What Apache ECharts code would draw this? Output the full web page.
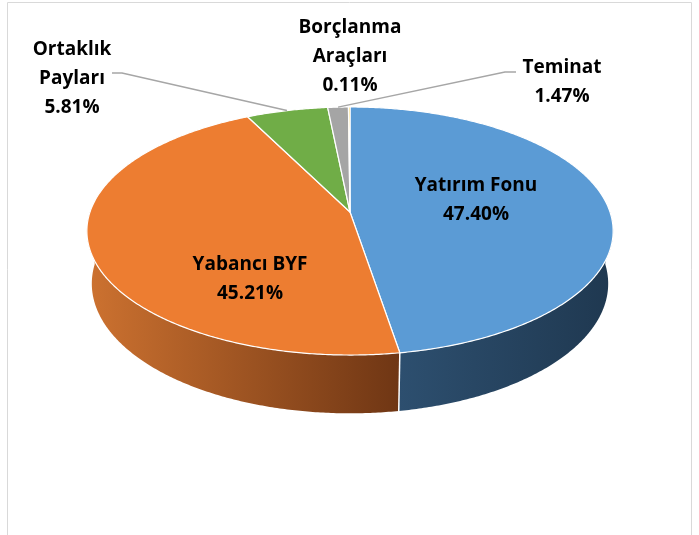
<!DOCTYPE html>
<html>
<head>
<meta charset="utf-8">
<script src="https://cdn.jsdelivr.net/npm/echarts@6/dist/echarts.min.js"></script>
<style>
html, body { margin: 0; padding: 0; background: #fff; }
#main { width: 699px; height: 535px; }
</style>
</head>
<body>
<div id="main"></div>
<script>
// dağılım verisi (saat yönünde, tepeden başlıyor)
const names = ['Yatırım Fonu', 'Yabancı BYF', 'Ortaklık\nPayları', 'Teminat', 'Borçlanma\nAraçları'];
const values = [47.40, 45.21, 5.81, 1.47, 0.11];

const topColors = ['#5B9BD5', '#ED7D31', '#70AD47', '#A5A5A5', '#FFC000'];
const wallColors = [['#2d4f6f', '#1f3850'], ['#cd7230', '#6f3614'], ['#4a7a2c', '#3a6022'], ['#7a7a7a', '#5a5a5a'], ['#b08500', '#8a6800']];

// label anchors (px) and leader elbows, layout only
const labelPos = [[476, 200], [250, 279], [72, 79], [562, 82], [350, 57]];
const leaders = [null, null, [[112, 73], [122, 73]], [[516, 72], [505, 72]], null];

// 3d pie geometry
const cx = 350, cy = 212, R = 260, H = 60, dist = 1501;
const sinA = 0.4658, cosA = Math.sqrt(1 - sinA * sinA);

const total = values.reduce((a, b) => a + b, 0);
const startDeg = [], endDeg = [];
let acc = 0;
values.forEach(v => {
    startDeg.push(acc / total * 360);
    acc += v;
    endDeg.push(acc / total * 360);
});

function proj(deg, y) {
    const t = deg * Math.PI / 180;
    const X = R * Math.sin(t), Z = R * Math.cos(t);
    const Yp = Z * sinA + y * cosA;
    const D = Z * cosA - y * sinA;
    const s = dist / (dist + D);
    return [cx + X * s, cy - Yp * s];
}

function arc(a0, a1, y) {
    const pts = [];
    const n = Math.max(2, Math.ceil((a1 - a0) / 0.5));
    for (let k = 0; k <= n; k++) {
        pts.push(proj(a0 + (a1 - a0) * k / n, y));
    }
    return pts;
}

const chart = echarts.init(document.getElementById('main'));
chart.setOption({
    animation: false,
    graphic: [{
        type: 'rect',
        silent: true,
        z: -10,
        shape: { x: 7.5, y: 2.5, width: 684, height: 545 },
        style: { fill: 'none', stroke: '#d9d9d9', lineWidth: 1 }
    }],
    series: [
        {
            // yan duvarlar
            type: 'custom',
            coordinateSystem: 'none',
            silent: true,
            data: values,
            renderItem: function (params) {
                const i = params.dataIndex;
                const a0 = Math.max(startDeg[i], 90), a1 = Math.min(endDeg[i], 270);
                if (a1 <= a0) return { type: 'group', children: [] };
                const top = arc(a0, a1, 0);
                const bot = arc(a0, a1, -H).reverse();
                const children = [{
                    type: 'polygon',
                    shape: { points: top.concat(bot) },
                    style: {
                        fill: new echarts.graphic.LinearGradient(0, 0, 1, 0, [
                            { offset: 0, color: wallColors[i][0] },
                            { offset: 1, color: wallColors[i][1] }
                        ]),
                        stroke: null
                    }
                }];
                if (startDeg[i] > 90 && startDeg[i] < 270) {
                    children.push({
                        type: 'line',
                        shape: (function () {
                            const p = proj(startDeg[i], 0), q = proj(startDeg[i], -H);
                            return { x1: p[0], y1: p[1], x2: q[0], y2: q[1] };
                        })(),
                        style: { stroke: '#fff', lineWidth: 1.5 }
                    });
                }
                return { type: 'group', children: children };
            }
        },
        {
            // üst yüzey
            type: 'custom',
            coordinateSystem: 'none',
            silent: true,
            data: values,
            renderItem: function (params) {
                const i = params.dataIndex;
                const pts = [[cx, cy]].concat(arc(startDeg[i], endDeg[i], 0));
                return {
                    type: 'polygon',
                    shape: { points: pts },
                    style: { fill: topColors[i], stroke: '#fff', lineWidth: 1.2, lineJoin: 'round' }
                };
            }
        },
        {
            // etiketler
            type: 'custom',
            coordinateSystem: 'none',
            silent: true,
            data: values,
            renderItem: function (params) {
                const i = params.dataIndex;
                const children = [{
                    type: 'text',
                    style: {
                        text: names[i] + '\n' + values[i].toFixed(2) + '%',
                        x: labelPos[i][0],
                        y: labelPos[i][1],
                        align: 'center',
                        verticalAlign: 'middle',
                        font: 'bold 19px "Open Sans"',
                        lineHeight: 29,
                        fill: '#000'
                    }
                }];
                if (leaders[i]) {
                    const mid = (startDeg[i] + endDeg[i]) / 2;
                    children.push({
                        type: 'polyline',
                        shape: { points: leaders[i].concat([proj(mid, 0)]) },
                        style: { stroke: '#a6a6a6', lineWidth: 1.5, fill: null }
                    });
                }
                return { type: 'group', children: children };
            }
        }
    ]
});
</script>
</body>
</html>
